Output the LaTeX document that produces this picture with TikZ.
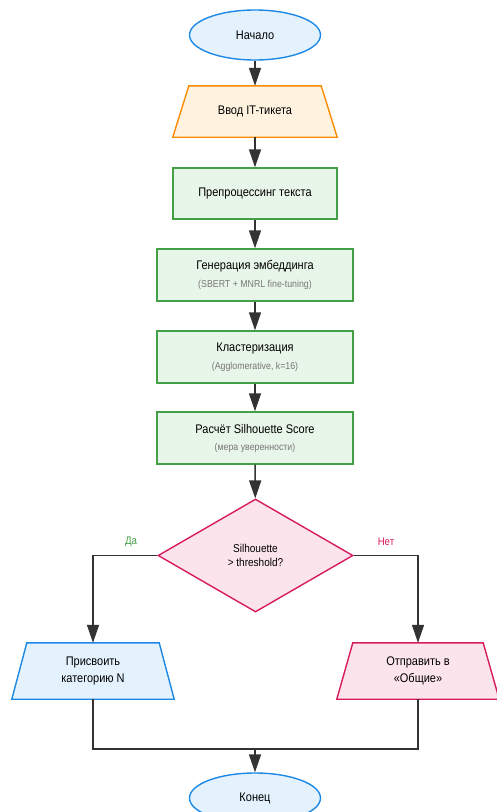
\documentclass[tikz,border=0pt]{standalone}
\usepackage{fontspec}
\setmainfont{Liberation Sans}[FakeStretch=0.88]
\usetikzlibrary{shapes.geometric,arrows.meta,backgrounds}
\definecolor{bluebd}{HTML}{1E88E5}
\definecolor{bluefl}{HTML}{E3F2FD}
\definecolor{orabd}{HTML}{FB8C00}
\definecolor{orafl}{HTML}{FFF3E0}
\definecolor{grnbd}{HTML}{43A047}
\definecolor{grnfl}{HTML}{E8F5E9}
\definecolor{pinkbd}{HTML}{D81B60}
\definecolor{pinkfl}{HTML}{FCE4EC}
\definecolor{linec}{HTML}{333333}
\definecolor{subc}{HTML}{777777}
\begin{document}
\begin{tikzpicture}[x=1pt,y=-1pt,
  every node/.style={font=\fontsize{12.5}{14}\selectfont, text=black, inner sep=0pt, align=center},
  term/.style={ellipse, draw=bluebd, fill=bluefl, line width=1.4pt, minimum width=131pt, minimum height=50pt},
  procbox/.style={rectangle, draw=grnbd, fill=grnfl, line width=1.4pt, minimum height=51pt},
  holder/.style={rectangle, minimum height=51pt},
  decis/.style={diamond, draw=pinkbd, fill=pinkfl, line width=1.4pt, minimum width=195pt, minimum height=113pt, font=\fontsize{11.4}{14}\selectfont},
  subtxt/.style={font=\fontsize{10}{11}\selectfont, text=subc},
  arr/.style={draw=linec, line width=1.5pt, -{Triangle[length=18pt,width=12pt]}},
  conn/.style={draw=linec, line width=1.5pt},
  lbl/.style={font=\fontsize{11}{12}\selectfont}
]
\useasboundingbox (0,0) rectangle (496,812);
\clip (0,0) rectangle (496,812);

\node[term] (start) at (255,35) {Начало};
\node[holder, minimum width=164pt] (input) at (255,111.5) {Ввод IT-тикета};
\node[procbox, minimum width=164pt] (pre) at (255,193.5) {Препроцессинг текста};
\node[procbox, minimum width=196pt, minimum height=52pt] (emb) at (255,275) {};
\node (embt) at (255,266) {Генерация эмбеддинга};
\node[subtxt] (embs) at (255,284.5) {(SBERT + MNRL fine-tuning)};
\node[procbox, minimum width=196pt, minimum height=52pt] (clu) at (255,357) {};
\node (clut) at (255,348) {Кластеризация};
\node[subtxt] (clus) at (255,366.5) {(Agglomerative, k=16)};
\node[procbox, minimum width=196pt, minimum height=52pt] (sil) at (255,438) {};
\node (silt) at (255,429) {Расчёт Silhouette Score};
\node[subtxt] (sils) at (255,447.5) {(мера уверенности)};
\node[decis] (dec) at (255.5,555.5) {Silhouette\\> threshold?};
\node[holder, minimum width=162pt, minimum height=56pt] (yes) at (93,671) {Присвоить\\[3pt]категорию N};
\node[holder, minimum width=162pt, minimum height=56pt] (no) at (418,671) {Отправить в\\[3pt]«Общие»};
\node[term] (end) at (255,798) {Конец};

\begin{scope}[on background layer]
  \draw[draw=orabd, fill=orafl, line width=1.4pt]
    ([xshift=16pt]input.north west) -- ([xshift=-16pt]input.north east)
    -- (input.south east) -- (input.south west) -- cycle;
  \draw[draw=bluebd, fill=bluefl, line width=1.4pt]
    ([xshift=15pt]yes.north west) -- ([xshift=-15pt]yes.north east)
    -- (yes.south east) -- (yes.south west) -- cycle;
  \draw[draw=pinkbd, fill=pinkfl, line width=1.4pt]
    ([xshift=16pt]no.north west) -- ([xshift=-16pt]no.north east)
    -- (no.south east) -- (no.south west) -- cycle;
\end{scope}

\draw[arr] (start) -- (input);
\draw[arr] (input) -- (pre);
\draw[arr] (pre) -- (emb);
\draw[arr] (emb) -- (clu);
\draw[arr] (clu) -- (sil);
\draw[arr] (sil) -- (dec);
\draw[arr] (dec.west) -| (yes.north);
\draw[arr] (dec.east) -| (no.north);
\coordinate (merge) at (255,749);
\draw[conn] (yes.south) |- (merge);
\draw[conn] (no.south) |- (merge);
\draw[arr] (merge) -- (end);

\node[lbl, text=grnbd] (lblyes) at (131,542) {Да};
\node[lbl, text=pinkbd] (lblno) at (386,542) {Нет};
\end{tikzpicture}
\end{document}
